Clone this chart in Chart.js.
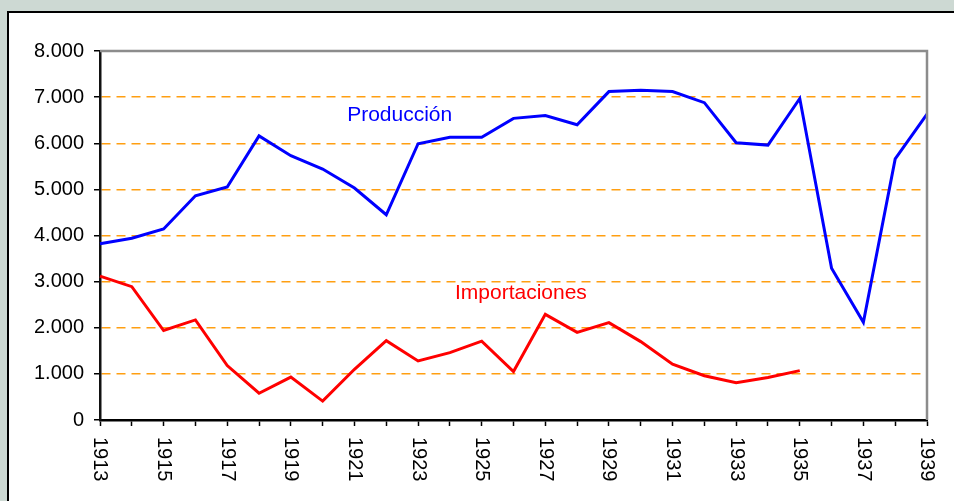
<!DOCTYPE html>
<html>
<head>
<meta charset="utf-8">
<script src="https://cdn.jsdelivr.net/npm/chart.js@4/dist/chart.umd.min.js"></script>
<style>
  body { margin: 0; background: #cdd9d3; overflow: hidden; }
  #panel { position: absolute; left: 7px; top: 11px; width: 980px; height: 520px; background: #fff; border-top: 2px solid #000; border-left: 2px solid #000; }
  #chart { position: absolute; left: 0; top: 0; }
</style>
</head>
<body>
<div id="panel"></div>
<canvas id="chart" width="954" height="501"></canvas>
<script>
var years = ['1913', '1914', '1915', '1916', '1917', '1918', '1919', '1920', '1921', '1922',
    '1923', '1924', '1925', '1926', '1927', '1928', '1929', '1930', '1931', '1932',
    '1933', '1934', '1935', '1936', '1937', '1938', '1939'];

var produccion = [3820, 3940, 4140, 4860, 5050, 6160, 5730, 5440, 5030, 4450,
    5990, 6130, 6130, 6540, 6600, 6400, 7120, 7150, 7120, 6880,
    6010, 5960, 6970, 3290, 2120, 5660, 6630];

var importaciones = [3120, 2890, 1940, 2170, 1180, 580, 930, 410, 1100, 1720,
    1280, 1460, 1710, 1050, 2290, 1900, 2110, 1700, 1210, 960,
    810, 920, 1070, null, null, null, null];

var fontFamily = "'Liberation Sans', Arial, sans-serif";
var orange = '#ff9f12';

function miles(v) {
    return String(v).replace(/\B(?=(\d{3})+(?!\d))/g, '.');
}

// labels, frame and rotated year labels
var extras = {
    id: 'extras',
    afterDraw: function (chart) {
        var ctx = chart.ctx;
        var xs = chart.scales.x;
        var ys = chart.scales.y;
        var area = chart.chartArea;

        ctx.save();
        // grey frame top / right
        ctx.strokeStyle = '#8c8c8c';
        ctx.lineWidth = 2.5;
        ctx.beginPath();
        ctx.moveTo(area.left, area.top);
        ctx.lineTo(area.right, area.top);
        ctx.lineTo(area.right, area.bottom);
        ctx.stroke();

        // year labels, read top to bottom
        ctx.fillStyle = '#000';
        ctx.font = '20px ' + fontFamily;
        ctx.textAlign = 'left';
        ctx.textBaseline = 'middle';
        years.forEach(function (y, i) {
            if (parseInt(y, 10) % 2 === 0) return;
            ctx.save();
            ctx.translate(xs.getPixelForValue(i), area.bottom + 17);
            ctx.rotate(Math.PI / 2);
            ctx.fillText(y, 0, 0);
            ctx.restore();
        });

        // series names
        ctx.font = '21px ' + fontFamily;
        ctx.textBaseline = 'alphabetic';
        ctx.fillStyle = '#0000ff';
        ctx.fillText('Producción', xs.getPixelForValue(7.77), ys.getPixelForValue(6480));
        ctx.fillStyle = '#ff0000';
        ctx.fillText('Importaciones', xs.getPixelForValue(11.16), ys.getPixelForValue(2620));
        ctx.restore();
    }
};

var ctx = document.getElementById('chart').getContext('2d');
var chart = new Chart(ctx, {
    type: 'line',
    data: {
        labels: years,
        datasets: [
            {
                label: 'Producción',
                data: produccion,
                borderColor: '#0000ff',
                borderWidth: 3,
                pointRadius: 0,
                tension: 0
            },
            {
                label: 'Importaciones',
                data: importaciones,
                borderColor: '#ff0000',
                borderWidth: 3,
                pointRadius: 0,
                tension: 0
            }
        ]
    },
    options: {
        responsive: false,
        animation: false,
        devicePixelRatio: 1,
        layout: { padding: { left: 0, top: 51, right: 27, bottom: 0 } },
        plugins: {
            legend: { display: false },
            tooltip: { enabled: false }
        },
        scales: {
            x: {
                offset: false,
                afterFit: function (scale) { scale.height = 81; },
                grid: {
                    drawOnChartArea: false,
                    drawTicks: true,
                    tickLength: 6,
                    tickColor: '#000',
                    tickWidth: 1.5
                },
                border: { color: '#000', width: 2.5 },
                ticks: { display: false, autoSkip: false }
            },
            y: {
                min: 0,
                max: 8000,
                afterFit: function (scale) { scale.width = 100; },
                grid: {
                    color: function (c) {
                        return (c.tick && (c.tick.value === 0 || c.tick.value === 8000)) ? 'rgba(0,0,0,0)' : orange;
                    },
                    lineWidth: 1.5,
                    tickLength: 6,
                    tickColor: '#000',
                    tickWidth: 1.5,
                    tickBorderDash: []
                },
                border: { color: '#111', width: 2.5, dash: [9, 6] },
                ticks: {
                    stepSize: 1000,
                    padding: 10,
                    color: '#000',
                    font: { family: fontFamily, size: 20 },
                    callback: function (v) { return miles(v); }
                }
            }
        }
    },
    plugins: [extras]
});
</script>
</body>
</html>
